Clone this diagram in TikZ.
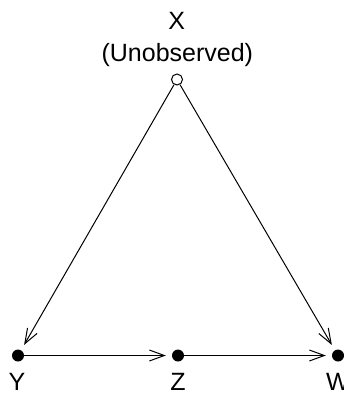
\documentclass[tikz,border=0pt]{standalone}
\usepackage{fontspec}
\setmainfont{Liberation Sans}
\usetikzlibrary{arrows.meta}

\begin{document}
\begin{tikzpicture}[
  x=1pt, y=-1pt,
  font=\fontsize{25}{30}\selectfont,
  obs/.style={circle, fill=black, inner sep=0pt, minimum size=12pt},
  latent/.style={circle, draw=black, fill=white, line width=1pt, inner sep=0pt,
                 minimum size=11pt},
  lab/.style={anchor=base, inner sep=0pt},
  edge/.style={-{Straight Barb[length=15pt, width=11pt]}, line width=1pt,
               shorten >=6pt},
]
  \useasboundingbox (0,0) rectangle (343,393);

  % ---- variables --------------------------------------------------------------
  \node[latent] (X) at (177,79.5) {};
  \node[obs] (Y) at (18,355.5) {};
  \node[obs] (Z) at (178,355.5) {};
  \node[obs] (W) at (338,355.5) {};

  % ---- labels -----------------------------------------------------------------
  \node[lab] (Xname) at (176.7,29.3) {X};
  \node[lab] (Xnote) at (177.3,61.7) {(Unobserved)};
  \node[lab] (Yname) at (17,390) {Y};
  \node[lab] (Zname) at (178,390) {Z};
  \node[lab] (Wname) at (338,390) {W};

  % ---- edges ------------------------------------------------------------------
  \draw[edge] (X) -- (Y);
  \draw[edge] (X) -- (W);
  \draw[edge] (Y) -- (Z);
  \draw[edge] (Z) -- (W);
\end{tikzpicture}
\end{document}
